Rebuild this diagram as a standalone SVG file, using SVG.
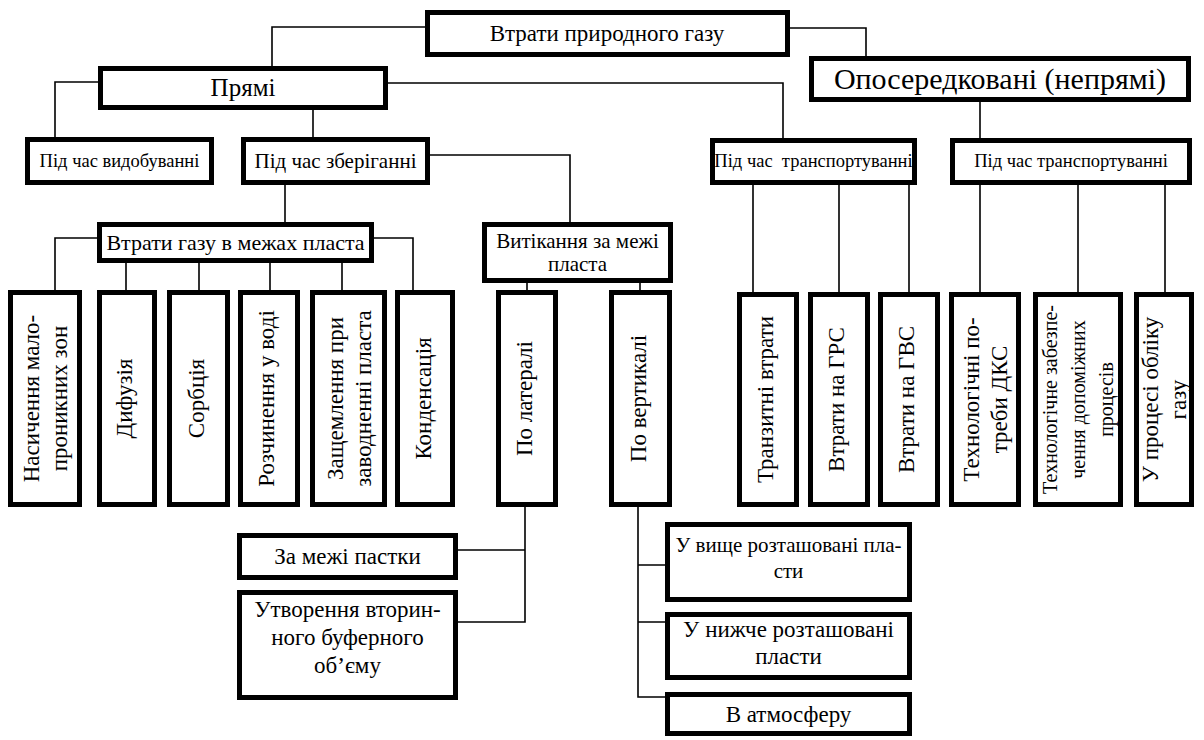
<svg xmlns="http://www.w3.org/2000/svg" width="1204" height="740" viewBox="0 0 1204 740">
<style>
.box{fill:#fff;stroke:#000;stroke-width:5}
.ln{fill:none;stroke:#000;stroke-width:1.6}
text{font-family:"Liberation Serif","Times New Roman",serif;fill:#000;text-anchor:middle}
.f23{font-size:23px}
.f22{font-size:22px}
.f21{font-size:21px}
.f18{font-size:18.5px}
.f20{font-size:20px}
</style>
<rect width="1204" height="740" fill="#fff"/>
<g id="connectors">
<path class="ln" d="M425,27 H272 V66"/>
<path class="ln" d="M790,28 H866 V56"/>
<path class="ln" d="M98,82 H55 V137"/>
<path class="ln" d="M313,110 V137"/>
<path class="ln" d="M388,83 H783 V138"/>
<path class="ln" d="M980,102 V138"/>
<path class="ln" d="M430,155 H570 V222"/>
<path class="ln" d="M285,185 V222"/>
<path class="ln" d="M97,238 H55 V290"/>
<path class="ln" d="M374,238 H413 V290"/>
<path class="ln" d="M126,263 V290 M199,263 V290 M270,263 V290 M342,263 V290"/>
<path class="ln" d="M527,283 V290 M640,283 V290"/>
<path class="ln" d="M753,185 V292 M839,185 V292 M909,185 V292"/>
<path class="ln" d="M980,185 V292 M1078,185 V292 M1165,185 V292"/>
<path class="ln" d="M525,507 V622 H458 M525,550 H458"/>
<path class="ln" d="M638,507 V697 H665 M638,565 H665 M638,622 H665"/>
</g>
<g id="n-root"><rect class="box" x="427.5" y="12.5" width="360" height="42"/><text class="f23" x="607" y="41">Втрати природного газу</text></g>
<g id="n-direct"><rect class="box" x="100.5" y="68.5" width="285" height="39"/><text style="font-size:25px" x="243" y="96">Прямі</text></g>
<g id="n-indirect"><rect class="box" x="811.5" y="58.5" width="377" height="41"/><text style="font-size:30px" x="1000" y="89">Опосередковані (непрямі)</text></g>
<g id="n-extract"><rect class="box" x="27.5" y="139.5" width="184" height="43"/><text class="f18" x="119.5" y="167">Під час видобуванні</text></g>
<g id="n-storage"><rect class="box" x="243.5" y="139.5" width="184" height="43"/><text class="f21" x="335.5" y="168">Під час зберіганні</text></g>
<g id="n-transp1"><rect class="box" x="712.5" y="140.5" width="202" height="42"/><text class="f18" x="813.5" y="167" xml:space="preserve">Під час  транспортуванні</text></g>
<g id="n-transp2"><rect class="box" x="952.5" y="140.5" width="237" height="42"/><text class="f18" x="1071" y="167">Під час транспортуванні</text></g>
<g id="n-inside"><rect class="box" x="99.5" y="224.5" width="272" height="36"/><text class="f22" x="235.5" y="250">Втрати газу в межах пласта</text></g>
<g id="n-leak"><rect class="box" x="484.5" y="224.5" width="186" height="56"/><text class="f21" x="577.5" y="248">Витікання за межі<tspan x="577.5" y="271">пласта</tspan></text></g>
<g id="n-sat"><rect class="box" x="10.5" y="292.5" width="69" height="212"/><text class="f23" transform="translate(45,398.5) rotate(-90)"><tspan x="0" y="-6">Насичення мало-</tspan><tspan x="0" y="22">проникних зон</tspan></text></g>
<g id="n-diff"><rect class="box" x="99.5" y="292.5" width="55" height="212"/><text class="f23" transform="translate(127,398.5) rotate(-90)" y="5">Дифузія</text></g>
<g id="n-sorb"><rect class="box" x="169.5" y="292.5" width="58" height="212"/><text class="f23" transform="translate(198.5,398.5) rotate(-90)" y="5">Сорбція</text></g>
<g id="n-dissolve"><rect class="box" x="240.5" y="292.5" width="57" height="212"/><text class="f23" transform="translate(269,398.5) rotate(-90)" y="5">Розчинення у воді</text></g>
<g id="n-trap"><rect class="box" x="312.5" y="292.5" width="72" height="212"/><text class="f23" transform="translate(348.5,398.5) rotate(-90)"><tspan x="0" y="-6">Защемлення при</tspan><tspan x="0" y="22">заводненні пласта</tspan></text></g>
<g id="n-cond"><rect class="box" x="397.5" y="292.5" width="55" height="212"/><text class="f23" transform="translate(425,398.5) rotate(-90)" y="6">Конденсація</text></g>
<g id="n-lat"><rect class="box" x="498.5" y="292.5" width="57" height="212"/><text class="f23" transform="translate(527,398.5) rotate(-90)" y="5">По латералі</text></g>
<g id="n-vert"><rect class="box" x="611.5" y="292.5" width="58" height="212"/><text class="f23" transform="translate(640.5,398.5) rotate(-90)" y="5">По вертикалі</text></g>
<g id="n-transit"><rect class="box" x="739.5" y="294.5" width="57" height="210"/><text class="f23" transform="translate(768,399.5) rotate(-90)" y="5">Транзитні втрати</text></g>
<g id="n-grs"><rect class="box" x="810.5" y="294.5" width="57" height="210"/><text class="f23" transform="translate(839,399.5) rotate(-90)" y="5">Втрати на ГРС</text></g>
<g id="n-gvs"><rect class="box" x="880.5" y="294.5" width="57" height="210"/><text class="f23" transform="translate(909,399.5) rotate(-90)" y="5">Втрати на ГВС</text></g>
<g id="n-dks"><rect class="box" x="951.5" y="294.5" width="67" height="210"/><text class="f23" transform="translate(985,399.5) rotate(-90)"><tspan x="0" y="-6">Технологічні по-</tspan><tspan x="0" y="22">треби ДКС</tspan></text></g>
<g id="n-aux"><rect class="box" x="1035.5" y="294.5" width="85" height="210"/><text class="f20" transform="translate(1078,399.5) rotate(-90)"><tspan x="0" y="-21">Технологічне забезпе-</tspan><tspan x="0" y="7">чення допоміжних</tspan><tspan x="0" y="35">процесів</tspan></text></g>
<g id="n-meter"><rect class="box" x="1136.5" y="294.5" width="55" height="210"/><text class="f23" transform="translate(1164,399.5) rotate(-90)"><tspan x="0" y="-6">У процесі обліку</tspan><tspan x="0" y="22">газу</tspan></text></g>
<g id="n-trapout"><rect class="box" x="239.5" y="535.5" width="216" height="42"/><text class="f23" x="347.5" y="564">За межі пастки</text></g>
<g id="n-buffer"><rect class="box" x="239.5" y="592.5" width="216" height="105"/><text class="f23" x="347.5" y="617">Утворення вторин-<tspan x="347.5" y="645">ного буферного</tspan><tspan x="347.5" y="673">об’єму</tspan></text></g>
<g id="n-upper"><rect class="box" x="667.5" y="524.5" width="242" height="75"/><text class="f21" x="788.5" y="552">У вище розташовані пла-<tspan x="788.5" y="578">сти</tspan></text></g>
<g id="n-lower"><rect class="box" x="667.5" y="614.5" width="242" height="63"/><text class="f23" x="788.5" y="637">У нижче розташовані<tspan x="788.5" y="664">пласти</tspan></text></g>
<g id="n-atm"><rect class="box" x="667.5" y="694.5" width="242" height="39"/><text class="f23" x="788.5" y="722">В атмосферу</text></g>
</svg>
